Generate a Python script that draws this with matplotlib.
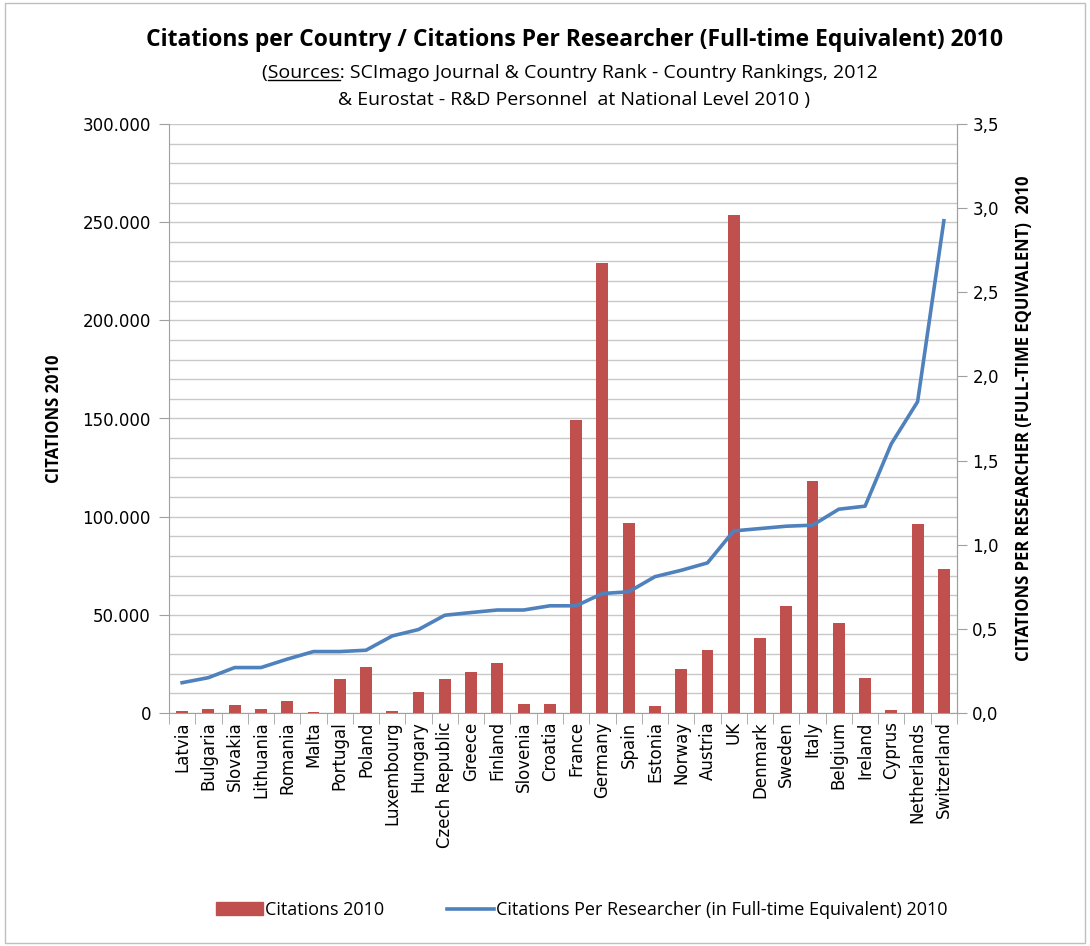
import numpy as np
import matplotlib.pyplot as plt
from matplotlib.ticker import FuncFormatter, MultipleLocator
from matplotlib.patches import Rectangle
from matplotlib.lines import Line2D

countries = ['Latvia', 'Bulgaria', 'Slovakia', 'Lithuania', 'Romania', 'Malta',
             'Portugal', 'Poland', 'Luxembourg', 'Hungary', 'Czech Republic',
             'Greece', 'Finland', 'Slovenia', 'Croatia', 'France', 'Germany',
             'Spain', 'Estonia', 'Norway', 'Austria', 'UK', 'Denmark', 'Sweden',
             'Italy', 'Belgium', 'Ireland', 'Cyprus', 'Netherlands', 'Switzerland']

citations = [900, 2200, 4300, 2200, 6300, 300, 17200, 23600, 900, 10700, 17200,
             21000, 25700, 4800, 4800, 149000, 229000, 96700, 3600, 22300, 32000,
             253700, 38400, 54500, 118000, 46000, 17700, 1700, 96300, 73400]

per_researcher = [0.18, 0.21, 0.27, 0.27, 0.32, 0.365, 0.365, 0.373, 0.458, 0.496,
                  0.581, 0.597, 0.612, 0.612, 0.637, 0.637, 0.71, 0.72, 0.81,
                  0.848, 0.892, 1.082, 1.096, 1.11, 1.116, 1.211, 1.229, 1.60,
                  1.85, 2.925]

bar_color = '#C0504D'
line_color = '#4F81BD'
axis_gray = '#A0A0A0'
grid_gray = '#C8C8C8'

narrow = ['Liberation Sans Narrow', 'Open Sans', 'DejaVu Sans']

fig = plt.figure(figsize=(10.9, 9.46), dpi=100)
ax = fig.add_axes([169 / 1090, 1 - 713 / 946, (957 - 169) / 1090, (713 - 124) / 946])

x = np.arange(len(countries))
ax.bar(x, citations, width=0.45, color=bar_color, zorder=3)
ax.set_xlim(-0.5, len(countries) - 0.5)
ax.set_ylim(0, 300000)
ax.yaxis.set_major_locator(MultipleLocator(50000))
ax.yaxis.set_minor_locator(MultipleLocator(10000))
ax.yaxis.set_major_formatter(FuncFormatter(lambda v, p: f'{int(v):,}'.replace(',', '.')))
ax.grid(True, which='both', axis='y', color=grid_gray, linewidth=1, zorder=0)
ax.set_axisbelow(True)
ax.tick_params(axis='y', which='minor', length=0)
ax.tick_params(axis='y', which='major', length=7, color=axis_gray, labelsize=12, pad=6)

ax.set_xticks(x)
ax.set_xticklabels(countries, rotation=90, fontsize=12)
ax.tick_params(axis='x', which='major', length=0, pad=6)
ax.set_xticks(np.arange(-0.5, len(countries)), minor=True)
ax.tick_params(axis='x', which='minor', length=8, color=axis_gray)

for side in ['left', 'bottom', 'right']:
    ax.spines[side].set_color(axis_gray)
ax.spines['top'].set_visible(False)

ax.set_ylabel('CITATIONS 2010', fontsize=12, fontweight='bold', family=narrow, labelpad=14)

ax2 = ax.twinx()
ax2.plot(x, per_researcher, color=line_color, linewidth=2.6, zorder=4)
ax2.set_ylim(0, 3.5)
ax2.yaxis.set_major_locator(MultipleLocator(0.5))
ax2.yaxis.set_major_formatter(FuncFormatter(lambda v, p: f'{v:.1f}'.replace('.', ',')))
ax2.tick_params(axis='y', length=7, color=axis_gray, labelsize=12, pad=4)
ax2.spines['right'].set_color(axis_gray)
ax2.spines['top'].set_visible(False)
ax2.spines['left'].set_visible(False)
ax2.spines['bottom'].set_visible(False)
ax2.set_ylabel('CITATIONS PER RESEARCHER (FULL-TIME EQUIVALENT)  2010', fontsize=12,
               fontweight='bold', family=narrow, labelpad=12)

# title block
fig.text(575 / 1090, 1 - 40 / 946, 'Citations per Country / Citations Per Researcher (Full-time Equivalent) 2010',
         ha='center', va='center', fontsize=16.5, fontweight='bold', family=narrow)
sub1 = fig.text(570 / 1090, 1 - 73 / 946, '(Sources: SCImago Journal & Country Rank - Country Rankings, 2012',
                ha='center', va='center', fontsize=14, family=narrow)
fig.text(574 / 1090, 1 - 100 / 946, '& Eurostat - R&D Personnel  at National Level 2010 )',
         ha='center', va='center', fontsize=14, family=narrow)

# underline "Sources"
renderer = fig.canvas.get_renderer()
bb = sub1.get_window_extent(renderer)
t_a = fig.text(0, 0, '(', fontsize=14, family=narrow)
t_b = fig.text(0, 0, '(Sources', fontsize=14, family=narrow)
w_a = t_a.get_window_extent(renderer).width
w_b = t_b.get_window_extent(renderer).width
t_a.remove()
t_b.remove()
uy = bb.y0 + 2
fig.add_artist(Line2D([(bb.x0 + w_a) / fig.bbox.width, (bb.x0 + w_b) / fig.bbox.width],
                      [uy / fig.bbox.height, uy / fig.bbox.height],
                      transform=fig.transFigure, color='black', linewidth=1))

# legend
handles = [Rectangle((0, 0), 1, 1, color=bar_color),
           Line2D([0], [0], color=line_color, linewidth=2.6)]
fig.legend(handles, ['Citations 2010', 'Citations Per Researcher (in Full-time Equivalent) 2010'],
           loc='center', bbox_to_anchor=(582 / 1090, 1 - 910 / 946), ncol=2, frameon=False,
           prop={'family': narrow, 'size': 13}, handlelength=2.6, handletextpad=0.1,
           columnspacing=3.5)

# outer frame
fig.add_artist(Rectangle((5 / 1090, 3 / 946), 1080 / 1090, 940 / 946, transform=fig.transFigure,
                         fill=False, edgecolor='#BFBFBF', linewidth=1))

fig.savefig('out.png', dpi=100)
